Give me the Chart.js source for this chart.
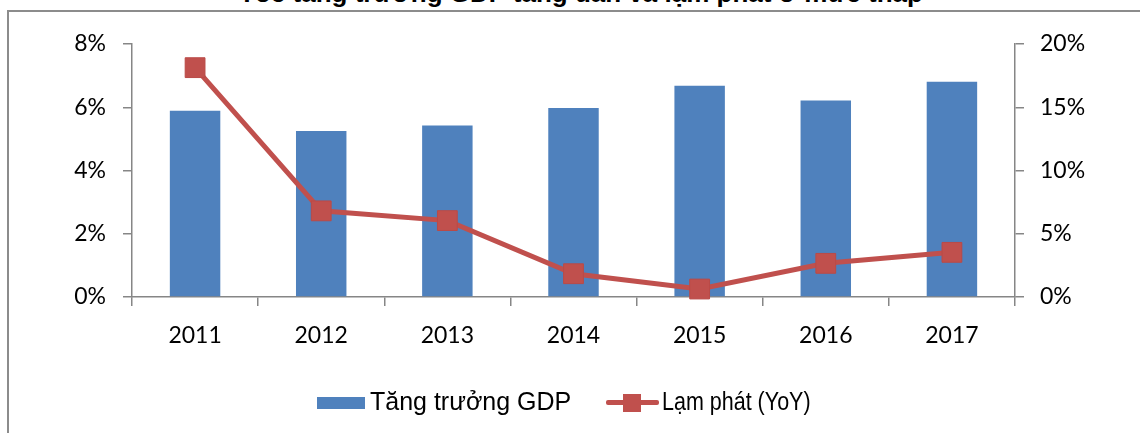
<!DOCTYPE html>
<html>
<head>
<meta charset="utf-8">
<script src="https://cdn.jsdelivr.net/npm/chart.js@4/dist/chart.umd.min.js"></script>
<style>
    html, body { margin: 0; padding: 0; background: #fff; overflow: hidden; }
    #wrap { position: relative; width: 1140px; height: 433px; overflow: hidden; }
    #frame {
        position: absolute; left: 7px; top: 10px; width: 1200px; height: 500px;
        border: 2px solid #8c8c8c; box-sizing: border-box;
    }
    #title {
        position: absolute; left: 0; width: 1162px; top: -20px; text-align: center;
        font: bold 26px "Liberation Sans", Arial, sans-serif; line-height: 26px; color: #000;
        white-space: nowrap;
    }
    #chart { position: absolute; left: 0; top: 0; }
    .legend { position: absolute; font: 25px "Liberation Sans", Arial, sans-serif; color: #000; line-height: 25px; white-space: nowrap; }
</style>
</head>
<body>
<div id="wrap">
    <div id="frame"></div>
    <div id="title">Tốc tăng trưởng GDP  tăng dần và lạm phát ở mức thấp</div>
    <canvas id="chart" width="1140" height="433"></canvas>
    <div style="position:absolute;left:317px;top:397px;width:48px;height:12px;background:#4F81BD;"></div>
    <div class="legend" style="left:370px;top:389px;">Tăng trưởng GDP</div>
    <div style="position:absolute;left:606px;top:400px;width:53px;height:5px;background:#C0504D;border-radius:2px;"></div>
    <div style="position:absolute;left:623px;top:394px;width:18px;height:18px;background:#C0504D;"></div>
    <div class="legend" style="left:662px;top:389px;transform:scaleX(0.86);transform-origin:left center;">Lạm phát (YoY)</div>
</div>
<script>
"use strict";
// data
var years = ["2011", "2012", "2013", "2014", "2015", "2016", "2017"];
var gdpGrowth = [5.89, 5.25, 5.42, 5.98, 6.68, 6.21, 6.81];
var inflation = [18.13, 6.81, 6.04, 1.84, 0.63, 2.66, 3.53];
var leftTicks = [0, 2, 4, 6, 8];
var rightTicks = [0, 5, 10, 15, 20];

var axisColor = "#868686";
var tickFont = { family: "Lato, 'Open Sans', sans-serif", size: 23 };

var ctx = document.getElementById("chart").getContext("2d");
window.chart = new Chart(ctx, {
    type: "bar",
    data: {
        labels: years,
        datasets: [
            {
                type: "line",
                label: "Lạm phát (YoY)",
                data: inflation,
                yAxisID: "y1",
                borderColor: "#C0504D",
                borderWidth: 5,
                pointStyle: "rect",
                pointRadius: 14,
                pointHoverRadius: 14,
                pointBackgroundColor: "#C0504D",
                pointBorderColor: "#BA4A47",
                pointBorderWidth: 1,
                tension: 0,
                clip: false,
                order: 0
            },
            {
                label: "Tăng trưởng GDP",
                data: gdpGrowth,
                yAxisID: "y",
                backgroundColor: "#4F81BD",
                categoryPercentage: 1,
                barPercentage: 0.4,
                order: 1
            }
        ]
    },
    options: {
        responsive: false,
        animation: false,
        layout: { padding: { left: 0, right: 0, top: 44, bottom: 0 } },
        plugins: {
            legend: { display: false },
            title: { display: false },
            tooltip: { enabled: false }
        },
        scales: {
            x: {
                grid: { offset: true, drawOnChartArea: false, drawTicks: true, tickLength: 9, color: axisColor, lineWidth: 1.5 },
                border: { display: true, color: axisColor, width: 1.5 },
                ticks: { color: "#000", font: tickFont, padding: 16, maxRotation: 0 },
                afterFit: function (s) { s.height = 136; }
            },
            y: {
                position: "left",
                min: 0,
                max: 8,
                afterBuildTicks: function (s) { s.ticks = leftTicks.map(function (v) { return { value: v }; }); },
                grid: { drawOnChartArea: false, drawTicks: true, tickLength: 9, color: axisColor, lineWidth: 1.5 },
                border: { display: true, color: axisColor, width: 1.5 },
                ticks: { color: "#000", font: tickFont, padding: 17, callback: function (v) { return v + "%"; } },
                afterFit: function (s) { s.width = 132; }
            },
            y1: {
                position: "right",
                min: 0,
                max: 20,
                afterBuildTicks: function (s) { s.ticks = rightTicks.map(function (v) { return { value: v }; }); },
                grid: { drawOnChartArea: false, drawTicks: true, tickLength: 9, color: axisColor, lineWidth: 1.5 },
                border: { display: true, color: axisColor, width: 1.5 },
                ticks: { color: "#000", font: tickFont, padding: 16, callback: function (v) { return v + "%"; } },
                afterFit: function (s) { s.width = 125; }
            }
        }
    }
});
</script>
</body>
</html>
